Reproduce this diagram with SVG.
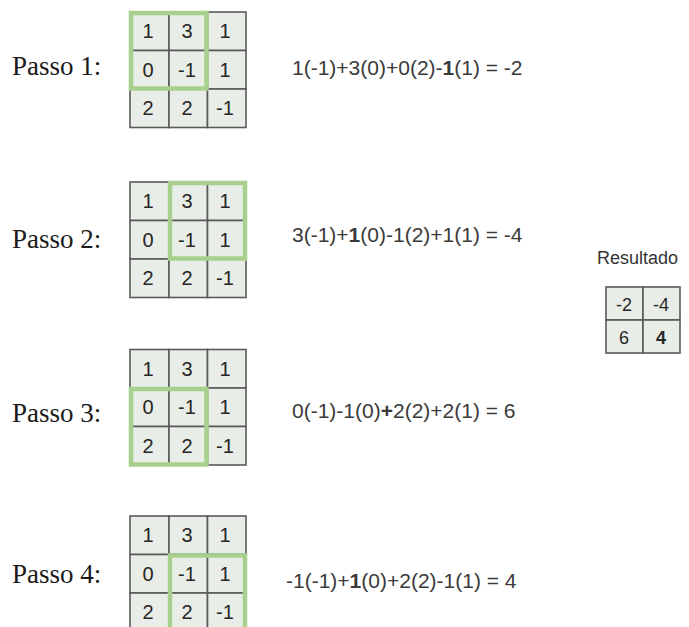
<svg xmlns="http://www.w3.org/2000/svg" width="689" height="627" viewBox="0 0 689 627">
<style>
.bg{fill:#fff}
.cell{fill:#e9ede7;stroke:#5a5a5a;stroke-width:1.6}
.hl{fill:none;stroke:#a8d08d;stroke-width:4.5}
.num{font-family:"Liberation Sans",Arial,sans-serif;font-size:20px;fill:#262626;text-anchor:middle}
.step{font-family:"Liberation Serif","Times New Roman",serif;font-size:27px;fill:#1a1a1a}
.eq{font-family:"Liberation Sans",Arial,sans-serif;font-size:21px;fill:#3a3a3a}
.res{font-family:"Liberation Sans",Arial,sans-serif;font-size:18px;fill:#333}
.b{font-weight:bold}
</style>
<defs>
<g id="grid">
<rect class="cell" x="0" y="0" width="39" height="38.5"/>
<rect class="cell" x="39" y="0" width="38.5" height="38.5"/>
<rect class="cell" x="77.5" y="0" width="38.5" height="38.5"/>
<rect class="cell" x="0" y="38.5" width="39" height="38.5"/>
<rect class="cell" x="39" y="38.5" width="38.5" height="38.5"/>
<rect class="cell" x="77.5" y="38.5" width="38.5" height="38.5"/>
<rect class="cell" x="0" y="77" width="39" height="38.5"/>
<rect class="cell" x="39" y="77" width="38.5" height="38.5"/>
<rect class="cell" x="77.5" y="77" width="38.5" height="38.5"/>
<text class="num" x="18" y="26">1</text>
<text class="num" x="57" y="26">3</text>
<text class="num" x="95" y="26">1</text>
<text class="num" x="18" y="64.5">0</text>
<text class="num" x="57" y="64.5">-1</text>
<text class="num" x="95" y="64.5">1</text>
<text class="num" x="18" y="103">2</text>
<text class="num" x="57" y="103">2</text>
<text class="num" x="95" y="103">-1</text>
</g>
</defs>
<rect class="bg" x="0" y="0" width="689" height="627"/>

<g id="passo1">
<text class="step" x="12" y="75">Passo 1:</text>
<use href="#grid" x="130" y="12"/>
<rect class="hl" x="131" y="13" width="75.5" height="75.5"/>
<text class="eq" x="292" y="75">1(-1)+3(0)+0(2)-<tspan class="b">1</tspan>(1) = -2</text>
</g>

<g id="passo2">
<text class="step" x="12" y="248">Passo 2:</text>
<use href="#grid" x="130" y="182"/>
<rect class="hl" x="170" y="183" width="75" height="75.5"/>
<text class="eq" x="292" y="242">3(-1)+<tspan class="b">1</tspan>(0)-1(2)+1(1) = -4</text>
</g>

<g id="passo3">
<text class="step" x="12" y="422">Passo 3:</text>
<use href="#grid" x="130" y="349.5"/>
<rect class="hl" x="131" y="389" width="75.5" height="75.5"/>
<text class="eq" x="292" y="418">0(-1)-1(0)<tspan class="b">+</tspan>2(2)+2(1) = 6</text>
</g>

<g id="passo4">
<text class="step" x="12" y="583">Passo 4:</text>
<use href="#grid" x="130" y="516"/>
<rect class="hl" x="170" y="555.5" width="75" height="75.5"/>
<text class="eq" x="286" y="588">-1(-1)+<tspan class="b">1</tspan>(0)+2(2)-1(1) = 4</text>
</g>

<g id="resultado">
<text class="res" x="597" y="264">Resultado</text>
<rect class="cell" x="606" y="287" width="37" height="33"/>
<rect class="cell" x="643" y="287" width="37" height="33"/>
<rect class="cell" x="606" y="320" width="37" height="33"/>
<rect class="cell" x="643" y="320" width="37" height="33"/>
<text class="num" x="624" y="311" style="font-size:18px">-2</text>
<text class="num" x="661" y="311" style="font-size:18px">-4</text>
<text class="num" x="624" y="344" style="font-size:18px">6</text>
<text class="num" x="661" y="344" style="font-size:18px" font-weight="bold">4</text>
</g>

<g id="connectors"></g>
</svg>
